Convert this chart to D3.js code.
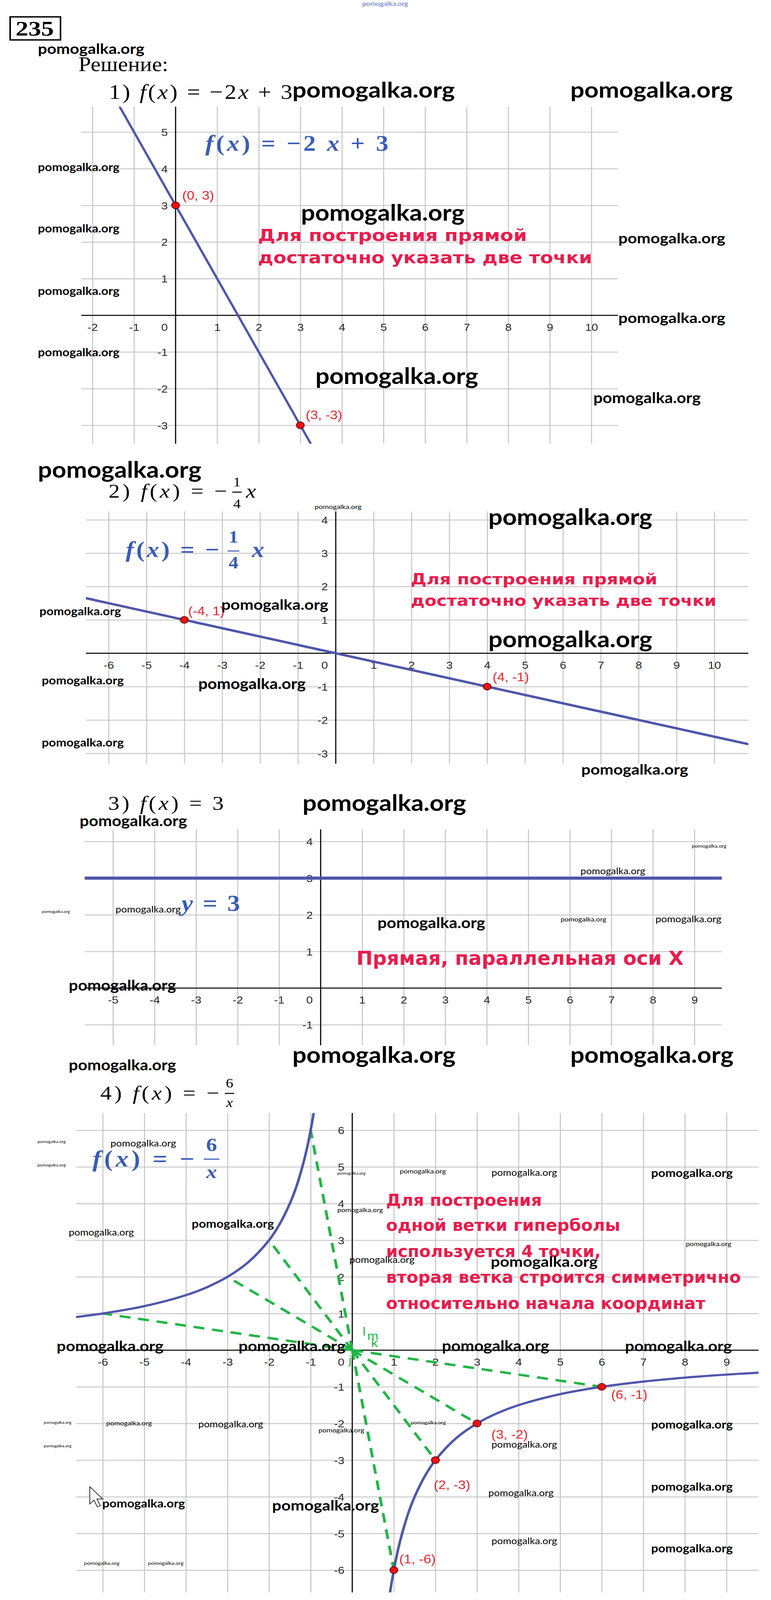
<!DOCTYPE html>
<html>
<head>
<meta charset="utf-8">
<script src="https://cdn.jsdelivr.net/npm/d3@7"></script>
<style>
  html, body { margin: 0; background: #fff; overflow: hidden; }
  svg { display: block; }
</style>
</head>
<body>
<svg id="page"></svg>
<script>
// ---------- данные ----------
// 1) f(x) = -2x + 3
const plot1XTicks = [-2, -1, 1, 2, 3, 4, 5, 6, 7, 8, 9, 10];
const plot1YTicks = [-3, -2, -1, 1, 2, 3, 4, 5];
const plot1Line = [[-1.35, 5.7], [0, 3], [3, -3], [3.25, -3.5]];
const plot1Points = [[0, 3], [3, -3]];
const plot1Labels = ["(0, 3)", "(3, -3)"];

// 2) f(x) = -x/4
const plot2XTicks = [-6, -5, -4, -3, -2, -1, 1, 2, 3, 4, 5, 6, 7, 8, 9, 10];
const plot2YTicks = [-3, -2, -1, 1, 2, 3, 4];
const plot2Line = [[-6.6, 1.65], [-4, 1], [4, -1], [10.9, -2.725]];
const plot2Points = [[-4, 1], [4, -1]];
const plot2Labels = ["(-4, 1)", "(4, -1)"];

// 3) f(x) = 3
const plot3XTicks = [-5, -4, -3, -2, -1, 1, 2, 3, 4, 5, 6, 7, 8, 9];
const plot3YTicks = [-1, 1, 2, 3, 4];
const plot3Line = [[-5.7, 3], [9.7, 3]];

// 4) f(x) = -6/x
const plot4XTicks = [-6, -5, -4, -3, -2, -1, 1, 2, 3, 4, 5, 6, 7, 8, 9];
const plot4YTicks = [-6, -5, -4, -3, -2, -1, 1, 2, 3, 4, 5, 6];
const plot4LeftBranch = [[-6.64, 0.904], [-6, 1], [-5, 1.2], [-4, 1.5], [-3.5, 1.714], [-3, 2],
  [-2.5, 2.4], [-2, 3], [-1.75, 3.43], [-1.5, 4], [-1.35, 4.44], [-1.2, 5], [-1.1, 5.45],
  [-1, 6], [-0.93, 6.45]];
const plot4RightBranch = [[0.91, -6.6], [1, -6], [1.1, -5.45], [1.2, -5], [1.35, -4.44],
  [1.5, -4], [1.75, -3.43], [2, -3], [2.5, -2.4], [3, -2], [3.5, -1.714], [4, -1.5],
  [5, -1.2], [6, -1], [7, -0.857], [8, -0.75], [9, -0.667], [9.77, -0.614]];
const plot4Rays = [[-6, 1], [-3, 2], [-2, 3], [-1, 6], [1, -6], [2, -3], [3, -2], [6, -1]];
const plot4Points = [[1, -6], [2, -3], [3, -2], [6, -1]];
const plot4Labels = ["(1, -6)", "(2, -3)", "(3, -2)", "(6, -1)"];

// ---------- разметка ----------
const W = 1975, H = 4649;
const frames = [
  { xDomain: [-2.27, 10.64], yDomain: [-3.5, 5.69], left: 208, right: 1583, top: 310, bottom: 1289 },
  { xDomain: [-6.6, 10.9], yDomain: [-3.31, 4.25], left: 220, right: 1917, top: 1486, bottom: 2219 },
  { xDomain: [-5.68, 9.66], yDomain: [-1.56, 4.33], left: 217, right: 1849, top: 2410, bottom: 3037 },
  { xDomain: [-6.64, 9.77], yDomain: [-6.61, 6.47], left: 195, right: 1943, top: 3234, bottom: 4627 }
];

const BLUE_LINE = "#4f56aa";
const BLUE_TEXT = "#3b5bb7";
const RED_TEXT = "#e81c4c";
const RED_LABEL = "#e8262e";
const GREEN = "#22b548";

// окно браузера может быть ниже страницы — тогда вписываем всю страницу в окно
const viewW = window.innerWidth || W;
const viewH = Math.min(window.innerHeight || H, H);

const svg = d3.select("#page")
  .attr("width", viewW)
  .attr("height", viewH)
  .attr("viewBox", `0 0 ${W} ${H}`)
  .attr("preserveAspectRatio", "none");

svg.append("rect").attr("width", W).attr("height", H).attr("fill", "#fff");

// текст с базовой линией
function addText(parent, str, x, y, o) {
  const t = parent.append("text")
    .attr("x", x).attr("y", y)
    .attr("font-family", o.family || "Liberation Serif")
    .attr("font-size", o.size)
    .attr("fill", o.fill || "#000")
    .text(str);
  if (o.weight) t.attr("font-weight", o.weight);
  if (o.style) t.attr("font-style", o.style);
  if (o.anchor) t.attr("text-anchor", o.anchor);
  if (o.length) t.attr("textLength", o.length).attr("lengthAdjust", o.adjust || "spacingAndGlyphs");
  return t;
}

// формула из кусочков: [строка, курсив?]
function addFormula(parent, parts, x, y, o) {
  const t = parent.append("text")
    .attr("x", x).attr("y", y)
    .attr("font-family", o.family || "Liberation Serif")
    .attr("font-size", o.size)
    .attr("fill", o.fill || "#000")
    .attr("xml:space", "preserve");
  if (o.weight) t.attr("font-weight", o.weight);
  parts.forEach(p => {
    t.append("tspan").attr("font-style", p[1] ? "italic" : "normal").text(p[0]);
  });
  if (o.length) t.attr("textLength", o.length).attr("lengthAdjust", "spacing");
  return t;
}

function addFraction(parent, num, den, cx, barY, barW, o) {
  parent.append("line")
    .attr("x1", cx - barW / 2).attr("x2", cx + barW / 2)
    .attr("y1", barY).attr("y2", barY)
    .attr("stroke", o.fill || "#000").attr("stroke-width", o.bar || 3);
  addText(parent, num[0], cx, barY - o.gapTop, { size: o.size, anchor: "middle", fill: o.fill, weight: o.weight, style: num[1] ? "italic" : null });
  addText(parent, den[0], cx, barY + o.gapBottom, { size: o.size, anchor: "middle", fill: o.fill, weight: o.weight, style: den[1] ? "italic" : null });
}

// ---------- координатная плоскость ----------
function drawPlot(i, xTicks, yTicks) {
  const f = frames[i];
  const g = svg.append("g").attr("class", "plot plot" + (i + 1));
  const x = d3.scaleLinear().domain(f.xDomain).range([f.left, f.right]);
  const y = d3.scaleLinear().domain(f.yDomain).range([f.bottom, f.top]);

  const clipId = "clip" + i;
  svg.append("clipPath").attr("id", clipId)
    .append("rect")
    .attr("x", f.left).attr("y", f.top)
    .attr("width", f.right - f.left).attr("height", f.bottom - f.top);

  const xGrid = xTicks.concat([0]).sort((a, b) => a - b);
  const yGrid = yTicks.concat([0]).sort((a, b) => a - b);

  // сетка
  g.append("g")
    .attr("transform", `translate(0,${f.bottom})`)
    .call(d3.axisBottom(x).tickValues(xGrid).tickSize(-(f.bottom - f.top)).tickFormat(""))
    .call(a => a.select(".domain").remove())
    .call(a => a.selectAll("line").attr("stroke", "#c6c6c6").attr("stroke-width", 2.6));
  g.append("g")
    .attr("transform", `translate(${f.left},0)`)
    .call(d3.axisLeft(y).tickValues(yGrid).tickSize(-(f.right - f.left)).tickFormat(""))
    .call(a => a.select(".domain").remove())
    .call(a => a.selectAll("line").attr("stroke", "#c6c6c6").attr("stroke-width", 2.6));

  // оси
  g.append("line")
    .attr("x1", f.left).attr("x2", f.right).attr("y1", y(0)).attr("y2", y(0))
    .attr("stroke", "#000").attr("stroke-width", 2.8);
  g.append("line")
    .attr("x1", x(0)).attr("x2", x(0)).attr("y1", f.top).attr("y2", f.bottom)
    .attr("stroke", "#000").attr("stroke-width", 2.8);

  // подписи делений
  const tickFont = a => a.selectAll("text")
    .attr("font-family", "Liberation Sans")
    .attr("font-size", 30)
    .attr("fill", "#2a2a2a");
  g.append("g")
    .attr("transform", `translate(0,${y(0)})`)
    .call(d3.axisBottom(x).tickValues(xTicks).tickSize(0).tickFormat(d => d))
    .call(a => a.select(".domain").remove())
    .call(tickFont)
    .call(a => a.selectAll("text").attr("y", 34).attr("dy", "0.36em"));
  g.append("g")
    .attr("transform", `translate(${x(0)},0)`)
    .call(d3.axisLeft(y).tickValues(yTicks).tickSize(0).tickFormat(d => d))
    .call(a => a.select(".domain").remove())
    .call(tickFont)
    .call(a => a.selectAll("text").attr("x", -20).attr("dy", "0.36em"));
  addText(g, "0", x(0) - 20, y(0) + 34, { family: "Liberation Sans", size: 30, fill: "#2a2a2a", anchor: "end" })
    .attr("dy", "0.36em");

  const plotArea = g.append("g").attr("clip-path", `url(#${clipId})`);
  return { g, plotArea, x, y };
}

function drawCurve(p, data, width, curve) {
  const line = d3.line().x(d => p.x(d[0])).y(d => p.y(d[1]));
  if (curve) line.curve(curve);
  p.plotArea.append("path")
    .datum(data)
    .attr("d", line)
    .attr("fill", "none")
    .attr("stroke", BLUE_LINE)
    .attr("stroke-width", width)
    .attr("stroke-linecap", "round");
}

function drawPoints(p, pts, labels, offsets) {
  p.g.selectAll(null)
    .data(pts)
    .join("circle")
    .attr("cx", d => p.x(d[0]))
    .attr("cy", d => p.y(d[1]))
    .attr("r", 10)
    .attr("fill", "#f01010")
    .attr("stroke", "#5a0000")
    .attr("stroke-width", 2);
  p.g.selectAll(null)
    .data(pts)
    .join("text")
    .attr("x", (d, i) => p.x(d[0]) + offsets[i][0])
    .attr("y", (d, i) => p.y(d[1]) + offsets[i][1])
    .attr("dy", "0.36em")
    .attr("font-family", "Liberation Sans")
    .attr("font-size", 35)
    .attr("fill", RED_LABEL)
    .text((d, i) => labels[i]);
}

function redLines(lines, x, size) {
  lines.forEach(l => {
    addText(svg, l[0], x, l[1] + 0.33 * size, {
      family: "DejaVu Sans", size, weight: "bold", fill: RED_TEXT, length: l[2]
    });
  });
}

// ---------- шапка ----------
svg.append("rect").attr("x", 26).attr("y", 49).attr("width", 129).attr("height", 67)
  .attr("fill", "none").attr("stroke", "#000").attr("stroke-width", 4);
addText(svg, "235", 89, 103, { size: 60, weight: "bold", anchor: "middle", length: 98 });
addText(svg, "Решение:", 201, 207, { size: 60, length: 230 });
addFormula(svg, [["1) ", 0], ["f", 1], ["(", 0], ["x", 1], [") = −2", 0], ["x", 1], [" + 3", 0]],
  279, 287, { size: 60, length: 470 });

// ---------- график 1 ----------
const p1 = drawPlot(0, plot1XTicks, plot1YTicks);
drawCurve(p1, plot1Line, 6);
drawPoints(p1, plot1Points, plot1Labels, [[17, -29], [14, -31]]);
addFormula(svg, [["f", 1], ["(", 0], ["x", 1], [") = −2 ", 0], ["x", 1], [" + 3", 0]],
  526, 438, { size: 64, weight: "bold", fill: BLUE_TEXT, length: 469 });
redLines([["Для построения прямой", 684, 689], ["достаточно указать две точки", 749, 856]], 661, 48);

// ---------- график 2 ----------
addFormula(svg, [["2) ", 0], ["f", 1], ["(", 0], ["x", 1], [") = −", 0]],
  278, 1446, { size: 58, length: 304 });
addFraction(svg, ["1", 0], ["4", 0], 607, 1430, 24, { size: 38, gapTop: 17, gapBottom: 47 });
addText(svg, "x", 630, 1446, { size: 58, style: "italic" });

const p2 = drawPlot(1, plot2XTicks, plot2YTicks);
drawCurve(p2, plot2Line, 7);
drawPoints(p2, plot2Points, plot2Labels, [[10, -26], [14, -28]]);
addFormula(svg, [["f", 1], ["(", 0], ["x", 1], [") = −", 0]],
  322, 1618, { size: 64, weight: "bold", fill: BLUE_TEXT, length: 240 });
addFraction(svg, ["1", 0], ["4", 0], 598, 1601, 30, { size: 50, weight: "bold", fill: BLUE_TEXT, gapTop: 24, gapBottom: 50 });
addText(svg, "x", 645, 1618, { size: 64, weight: "bold", style: "italic", fill: BLUE_TEXT });
redLines([["Для построения прямой", 1683, 632], ["достаточно указать две точки", 1746, 783]], 1052, 44);

// ---------- график 3 ----------
addFormula(svg, [["3) ", 0], ["f", 1], ["(", 0], ["x", 1], [") = 3", 0]],
  277, 2353, { size: 58, length: 296 });
const p3 = drawPlot(2, plot3XTicks, plot3YTicks);
drawCurve(p3, plot3Line, 9);
addFormula(svg, [["y", 1], [" = 3", 0]], 465, 2647, { size: 66, weight: "bold", fill: BLUE_TEXT, length: 150 });
redLines([["Прямая,  параллельная оси X", 2785, 838]], 913, 56);

// ---------- график 4 ----------
addFormula(svg, [["4) ", 0], ["f", 1], ["(", 0], ["x", 1], [") = −", 0]],
  257, 3195, { size: 58, length: 305 });
addFraction(svg, ["6", 0], ["x", 1], 588, 3177, 24, { size: 38, gapTop: 17, gapBottom: 40 });

const p4 = drawPlot(3, plot4XTicks, plot4YTicks);
p4.plotArea.selectAll(null)
  .data(plot4Rays)
  .join("line")
  .attr("x1", p4.x(0)).attr("y1", p4.y(0))
  .attr("x2", d => p4.x(d[0])).attr("y2", d => p4.y(d[1]))
  .attr("stroke", GREEN)
  .attr("stroke-width", 7)
  .attr("stroke-dasharray", "28 20");
drawCurve(p4, plot4LeftBranch, 6.5, d3.curveCatmullRom);
drawCurve(p4, plot4RightBranch, 6.5, d3.curveCatmullRom);
drawPoints(p4, plot4Points, plot4Labels, [[14, -32], [-4, 71], [37, 32], [24, 22]]);
addFormula(svg, [["f", 1], ["(", 0], ["x", 1], [") = −", 0]],
  237, 3389, { size: 66, weight: "bold", fill: BLUE_TEXT, length: 261 });
addFraction(svg, ["6", 0], ["x", 1], 542, 3368, 40, { size: 56, weight: "bold", fill: BLUE_TEXT, gapTop: 23, gapBottom: 55 });

// подписи прямых у начала координат
[["l", 929, 3881], ["m", 941, 3893], ["k", 951, 3914], ["j", 893, 3964]].forEach(l => {
  addText(svg, l[0], l[1], l[2], { family: "Liberation Sans", size: 34, fill: GREEN });
});

redLines([
  ["Для построения", 3488, 399],
  ["одной ветки гиперболы", 3561, 600],
  ["используется 4 точки,", 3637, 550],
  ["вторая ветка строится симметрично", 3712, 909],
  ["относительно начала координат", 3788, 818]
], 989, 48);

// курсор мыши
svg.append("path")
  .attr("d", "M0,0 L0,46 L10,36 L18,54 L25,51 L17,33 L31,33 Z")
  .attr("transform", "translate(230,4320) scale(1.08)")
  .attr("fill", "#fff")
  .attr("stroke", "#333")
  .attr("stroke-width", 2);

// ---------- водяные знаки ----------
const marks = [
  [928, 12, 117, "#5a6fd2"], [97, 145, 273], [749, 267, 416], [1461, 267, 416],
  [97, 488, 209], [97, 667, 209], [97, 848, 209], [97, 1027, 209],
  [771, 624, 419], [808, 1098, 417], [1584, 696, 274], [1584, 927, 274], [1520, 1160, 275],

  [97, 1371, 419], [806, 1474, 120], [1251, 1508, 420], [1251, 1863, 420], [567, 1760, 274],
  [101, 1779, 209], [107, 1980, 210], [508, 1991, 275], [107, 2160, 210], [1489, 2239, 274],

  [775, 2339, 419], [204, 2389, 275], [296, 2645, 167], [107, 2650, 72], [967, 2685, 276],
  [1436, 2673, 117], [1679, 2673, 169], [1487, 2533, 166], [1772, 2459, 89],
  [176, 2867, 275], [749, 3071, 418], [1461, 3071, 418], [176, 3099, 275],

  [96, 3318, 72], [96, 3386, 72], [283, 3324, 168], [1024, 3405, 118], [864, 3410, 72],
  [1259, 3409, 168], [1668, 3411, 209], [864, 3517, 117], [491, 3559, 211], [176, 3583, 167],
  [1757, 3616, 116], [895, 3663, 167], [1257, 3670, 274], [145, 3915, 274], [611, 3915, 274],
  [1132, 3915, 275], [1601, 3915, 274], [112, 4134, 71], [272, 4137, 117], [508, 4140, 166],
  [816, 4157, 117], [1052, 4135, 90], [1668, 4142, 209], [112, 4202, 71], [1259, 4199, 168],
  [1251, 4340, 167], [1668, 4323, 209], [262, 4371, 212], [697, 4378, 274], [1259, 4480, 168],
  [1668, 4502, 209], [215, 4543, 91], [379, 4543, 91]
];
marks.forEach(m => {
  const size = m[2] / 6.5;
  addText(svg, "pomogalka.org", m[0], m[1] + 0.27 * size, {
    family: "Lato", size, weight: size >= 30 ? "bold" : "normal",
    fill: m[3] || "#000", length: m[2]
  });
});
</script>
</body>
</html>
